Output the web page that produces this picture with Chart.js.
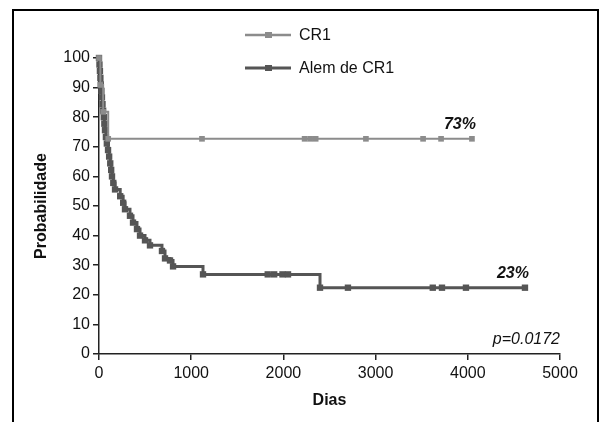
<!DOCTYPE html>
<html>
<head>
<meta charset="utf-8">
<script src="https://cdn.jsdelivr.net/npm/chart.js@4/dist/chart.umd.min.js"></script>
<style>
  html, body { margin: 0; padding: 0; background: #fff; }
  #wrap { position: relative; width: 602px; height: 422px; overflow: hidden; }
  #frame { position: absolute; left: 12px; top: 9px; width: 583px; height: 440px; border: 2px solid #000; }
  #chart { position: absolute; left: 0; top: 0; }
</style>
</head>
<body>
<div id="wrap">
  <div id="frame"></div>
  <canvas id="chart" width="602" height="422"></canvas>
</div>
<script>
// Kaplan-Meier, CR1 (n ~ 11): events early, then censored patients
const cr1Days = [0, 15, 45, 100, 1117, 2230, 2290, 2350, 2895, 3515, 3710, 4045];
const cr1Prob = [100, 90.9, 81.8, 72.7, 72.7, 72.7, 72.7, 72.7, 72.7, 72.7, 72.7, 72.7];

// Kaplan-Meier, Alem de CR1
const alemDays = [0, 5, 10, 15, 20, 26, 32, 38, 45, 52, 58, 65, 75, 85, 98, 110, 122, 132, 141, 155,
                  174, 230, 262, 282, 336, 369, 412, 445, 499, 553, 683, 716, 770, 803, 1128,
                  1830, 1900, 1990, 2050, 2397, 2700, 3620, 3720, 3980, 4620];
const alemProb = [100, 97.8, 95.6, 93.3, 91.1, 88.9, 86.7, 84.4, 82.2, 80, 77.8, 75.6, 73.3, 71.1, 68.9, 66.7, 64.4, 62.2, 60, 57.8,
                  55.6, 53.3, 51.1, 48.9, 46.7, 44.4, 42.2, 40, 38.4, 36.7, 34.8, 32.3, 31.6, 29.6, 26.9,
                  26.9, 26.9, 26.9, 26.9, 22.4, 22.4, 22.4, 22.4, 22.4, 22.4];

const seriesNames = ['CR1', 'Alem de CR1'];
const seriesColors = ['#8c8c8c', '#555555'];
const endLabels = ['73%', '23%'];
const pValue = 'p=0.0172';

const xTicks = [0, 1000, 2000, 3000, 4000, 5000];
const yTicks = [0, 10, 20, 30, 40, 50, 60, 70, 80, 90, 100];

const FONT = '"Liberation Sans", Arial, sans-serif';

function toPoints(days, prob) {
    return days.map((d, i) => ({ x: d, y: prob[i] }));
}

// legend, end labels and p-value
const extras = {
    id: 'extras',
    afterDraw(chart) {
        const { ctx, scales: { x, y } } = chart;
        ctx.save();
        ctx.fillStyle = '#111';
        ctx.textBaseline = 'alphabetic';

        // end labels above the last point of each curve
        ctx.font = 'italic bold 16px ' + FONT;
        ctx.textAlign = 'right';
        const ends = [[cr1Days, cr1Prob], [alemDays, alemProb]];
        ends.forEach(([d, p], i) => {
            const last = d.length - 1;
            ctx.fillText(endLabels[i], x.getPixelForValue(d[last]) + 4, y.getPixelForValue(p[last]) - 10);
        });

        ctx.font = 'italic 16px ' + FONT;
        ctx.fillText(pValue, chart.chartArea.right, y.getPixelForValue(3.5));

        // legend
        const rows = [35, 68];
        ctx.textAlign = 'left';
        ctx.textBaseline = 'middle';
        ctx.font = '16px ' + FONT;
        seriesNames.forEach((name, i) => {
            const yy = rows[i];
            ctx.strokeStyle = seriesColors[i];
            ctx.lineWidth = i === 0 ? 2.5 : 3;
            ctx.beginPath();
            ctx.moveTo(245, yy);
            ctx.lineTo(291, yy);
            ctx.stroke();
            ctx.fillStyle = seriesColors[i];
            ctx.fillRect(265, yy - 3, 7, 6);
            ctx.fillStyle = '#111';
            ctx.fillText(name, 299, yy + 1);
        });
        ctx.restore();
    }
};

new Chart(document.getElementById('chart'), {
    type: 'scatter',
    data: {
        datasets: [
            {
                label: seriesNames[0],
                data: toPoints(cr1Days, cr1Prob),
                showLine: true,
                stepped: true,
                borderColor: seriesColors[0],
                backgroundColor: seriesColors[0],
                borderWidth: 2,
                pointStyle: 'rect',
                pointRadius: 4,
                pointBorderWidth: 0,
                clip: false,
            },
            {
                label: seriesNames[1],
                data: toPoints(alemDays, alemProb),
                showLine: true,
                stepped: true,
                borderColor: seriesColors[1],
                backgroundColor: seriesColors[1],
                borderWidth: 3,
                pointStyle: 'rect',
                pointRadius: 4.5,
                pointBorderWidth: 0,
                clip: false,
            }
        ]
    },
    options: {
        responsive: false,
        animation: false,
        layout: { padding: { top: 58, right: 42, left: 0, bottom: 0 } },
        plugins: {
            legend: { display: false },
            tooltip: { enabled: false }
        },
        scales: {
            x: {
                type: 'linear',
                min: 0,
                max: 5000,
                afterBuildTicks: s => { s.ticks = xTicks.map(v => ({ value: v })); },
                afterFit: s => { s.height = 68; },
                ticks: { color: '#111', font: { family: FONT, size: 16 }, padding: 4, maxRotation: 0, callback: v => String(v) },
                grid: { drawOnChartArea: false, tickLength: 6, color: '#222', lineWidth: 1.5 },
                border: { color: '#222', width: 1.5 },
                title: {
                    display: true, text: 'Dias', color: '#111',
                    font: { family: FONT, size: 16, weight: 'bold' },
                    padding: { top: 0, bottom: 12 }
                }
            },
            y: {
                min: 0,
                max: 100,
                afterBuildTicks: s => { s.ticks = yTicks.map(v => ({ value: v })); },
                afterFit: s => { s.width = 99; },
                ticks: { color: '#111', font: { family: FONT, size: 16 }, padding: 3, callback: v => String(v) },
                grid: { drawOnChartArea: false, tickLength: 6, color: '#222', lineWidth: 1.5 },
                border: { color: '#222', width: 1.5 },
                title: {
                    display: true, text: 'Probabilidade', color: '#111',
                    font: { family: FONT, size: 16, weight: 'bold' },
                    padding: { top: 32, bottom: 0 }
                }
            }
        }
    },
    plugins: [extras]
});
</script>
</body>
</html>
